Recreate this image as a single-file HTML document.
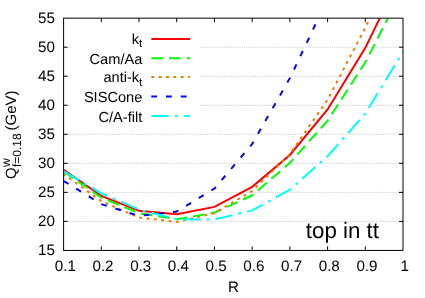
<!DOCTYPE html>
<html><head><meta charset="utf-8"><title>plot</title>
<style>html,body{margin:0;padding:0;background:#fff}svg{display:block}text{font-family:"Liberation Sans",sans-serif;fill:#000;text-rendering:geometricPrecision}</style></head>
<body>
<svg width="425" height="298" viewBox="0 0 425 298">
<rect x="0" y="0" width="425" height="298" fill="#fff"/>
<defs><filter id="gs" x="0" y="0" width="425" height="298" filterUnits="userSpaceOnUse" color-interpolation-filters="sRGB"><feColorMatrix type="saturate" values="0"/></filter><clipPath id="c"><rect x="63.6" y="18.15" width="339.4" height="232.30"/></clipPath></defs>
<line x1="63.6" y1="221.41" x2="403.0" y2="221.41" stroke="#b8b8b8" stroke-width="0.75" stroke-dasharray="1.1 1.1"/>
<line x1="63.6" y1="192.38" x2="403.0" y2="192.38" stroke="#b8b8b8" stroke-width="0.75" stroke-dasharray="1.1 1.1"/>
<line x1="63.6" y1="163.34" x2="403.0" y2="163.34" stroke="#b8b8b8" stroke-width="0.75" stroke-dasharray="1.1 1.1"/>
<line x1="63.6" y1="134.30" x2="403.0" y2="134.30" stroke="#b8b8b8" stroke-width="0.75" stroke-dasharray="1.1 1.1"/>
<line x1="63.6" y1="105.26" x2="403.0" y2="105.26" stroke="#b8b8b8" stroke-width="0.75" stroke-dasharray="1.1 1.1"/>
<line x1="63.6" y1="76.23" x2="403.0" y2="76.23" stroke="#b8b8b8" stroke-width="0.75" stroke-dasharray="1.1 1.1"/>
<line x1="63.6" y1="47.19" x2="403.0" y2="47.19" stroke="#b8b8b8" stroke-width="0.75" stroke-dasharray="1.1 1.1"/>
<rect x="71.5" y="26" width="127.5" height="100" fill="#fff"/>
<g clip-path="url(#c)" fill="none" stroke-width="2" stroke-linejoin="miter">
<polyline points="63.60,169.73 101.31,195.86 139.02,210.84 176.73,214.21 214.44,206.89 252.16,186.86 289.87,154.97 327.58,109.44 365.29,47.88 403.00,-29.47" stroke="#ff0000"/>
<polyline points="63.60,171.47 101.31,197.72 139.02,213.28 176.73,219.21 214.44,212.70 252.16,195.28 289.87,162.81 327.58,120.65 365.29,62.29 403.00,-11.29" stroke="#00ff00" stroke-dasharray="11.6 6.1"/>
<polyline points="63.60,174.08 101.31,201.09 139.02,217.58 176.73,221.88 214.44,213.11 252.16,191.04 289.87,154.05 327.58,99.75 365.29,27.73 403.00,-51.54" stroke="#ee7a00" stroke-dasharray="2.9 4.46" stroke-dashoffset="0.6"/>
<polyline points="63.60,180.99 101.31,204.16 139.02,215.90 176.73,211.54 214.44,188.60 252.16,144.00 289.87,78.14 327.58,-1.01 365.29,-98.00 403.00,-185.11" stroke="#0000ff" stroke-dasharray="5.7 9.05"/>
<polyline points="63.60,171.47 101.31,193.25 139.02,209.51 176.73,219.32 214.44,219.44 252.16,210.38 289.87,189.65 327.58,156.25 365.29,113.51 403.00,51.83" stroke="#00ffff" stroke-dasharray="17.5 6.05 2.85 6.05"/>
</g>
<line x1="151.3" y1="38.9" x2="190.2" y2="38.9" stroke="#ff0000" stroke-width="2"/>
<line x1="151.3" y1="58.2" x2="190.2" y2="58.2" stroke="#00ff00" stroke-width="2" stroke-dasharray="11.6 6.1"/>
<line x1="151.3" y1="77.1" x2="190.2" y2="77.1" stroke="#ee7a00" stroke-width="2" stroke-dasharray="2.9 4.46"/>
<line x1="151.3" y1="96.4" x2="190.2" y2="96.4" stroke="#0000ff" stroke-width="2" stroke-dasharray="5.7 9.05"/>
<line x1="151.3" y1="116.1" x2="190.2" y2="116.1" stroke="#00ffff" stroke-width="2" stroke-dasharray="17.5 6.05 2.85 6.05"/>
<rect x="63.6" y="18.15" width="339.40" height="232.30" fill="none" stroke="#000" stroke-width="1"/>
<line x1="101.31" y1="250.45" x2="101.31" y2="246.45" stroke="#000" stroke-width="1"/>
<line x1="101.31" y1="18.15" x2="101.31" y2="22.15" stroke="#000" stroke-width="1"/>
<line x1="139.02" y1="250.45" x2="139.02" y2="246.45" stroke="#000" stroke-width="1"/>
<line x1="139.02" y1="18.15" x2="139.02" y2="22.15" stroke="#000" stroke-width="1"/>
<line x1="176.73" y1="250.45" x2="176.73" y2="246.45" stroke="#000" stroke-width="1"/>
<line x1="176.73" y1="18.15" x2="176.73" y2="22.15" stroke="#000" stroke-width="1"/>
<line x1="214.44" y1="250.45" x2="214.44" y2="246.45" stroke="#000" stroke-width="1"/>
<line x1="214.44" y1="18.15" x2="214.44" y2="22.15" stroke="#000" stroke-width="1"/>
<line x1="252.16" y1="250.45" x2="252.16" y2="246.45" stroke="#000" stroke-width="1"/>
<line x1="252.16" y1="18.15" x2="252.16" y2="22.15" stroke="#000" stroke-width="1"/>
<line x1="289.87" y1="250.45" x2="289.87" y2="246.45" stroke="#000" stroke-width="1"/>
<line x1="289.87" y1="18.15" x2="289.87" y2="22.15" stroke="#000" stroke-width="1"/>
<line x1="327.58" y1="250.45" x2="327.58" y2="246.45" stroke="#000" stroke-width="1"/>
<line x1="327.58" y1="18.15" x2="327.58" y2="22.15" stroke="#000" stroke-width="1"/>
<line x1="365.29" y1="250.45" x2="365.29" y2="246.45" stroke="#000" stroke-width="1"/>
<line x1="365.29" y1="18.15" x2="365.29" y2="22.15" stroke="#000" stroke-width="1"/>
<line x1="63.6" y1="221.41" x2="67.6" y2="221.41" stroke="#000" stroke-width="1"/>
<line x1="403.0" y1="221.41" x2="399.0" y2="221.41" stroke="#000" stroke-width="1"/>
<line x1="63.6" y1="192.38" x2="67.6" y2="192.38" stroke="#000" stroke-width="1"/>
<line x1="403.0" y1="192.38" x2="399.0" y2="192.38" stroke="#000" stroke-width="1"/>
<line x1="63.6" y1="163.34" x2="67.6" y2="163.34" stroke="#000" stroke-width="1"/>
<line x1="403.0" y1="163.34" x2="399.0" y2="163.34" stroke="#000" stroke-width="1"/>
<line x1="63.6" y1="134.30" x2="67.6" y2="134.30" stroke="#000" stroke-width="1"/>
<line x1="403.0" y1="134.30" x2="399.0" y2="134.30" stroke="#000" stroke-width="1"/>
<line x1="63.6" y1="105.26" x2="67.6" y2="105.26" stroke="#000" stroke-width="1"/>
<line x1="403.0" y1="105.26" x2="399.0" y2="105.26" stroke="#000" stroke-width="1"/>
<line x1="63.6" y1="76.23" x2="67.6" y2="76.23" stroke="#000" stroke-width="1"/>
<line x1="403.0" y1="76.23" x2="399.0" y2="76.23" stroke="#000" stroke-width="1"/>
<line x1="63.6" y1="47.19" x2="67.6" y2="47.19" stroke="#000" stroke-width="1"/>
<line x1="403.0" y1="47.19" x2="399.0" y2="47.19" stroke="#000" stroke-width="1"/>
<g filter="url(#gs)">
<text x="142.3" y="43.5" font-size="14.6" text-anchor="end">k<tspan font-size="11.5" dy="3.5">t</tspan></text>
<text x="142.3" y="64.1" font-size="14.6" text-anchor="end">Cam/Aa</text>
<text x="142.3" y="82.0" font-size="14.6" text-anchor="end">anti-k<tspan font-size="11.5" dy="3.5">t</tspan></text>
<text x="142.3" y="102.3" font-size="14.6" text-anchor="end">SISCone</text>
<text x="142.3" y="122.0" font-size="14.6" text-anchor="end">C/A-filt</text>
<text x="54.9" y="255.40" font-size="15.2" text-anchor="end">15</text>
<text x="54.9" y="226.36" font-size="15.2" text-anchor="end">20</text>
<text x="54.9" y="197.32" font-size="15.2" text-anchor="end">25</text>
<text x="54.9" y="168.29" font-size="15.2" text-anchor="end">30</text>
<text x="54.9" y="139.25" font-size="15.2" text-anchor="end">35</text>
<text x="54.9" y="110.21" font-size="15.2" text-anchor="end">40</text>
<text x="54.9" y="81.18" font-size="15.2" text-anchor="end">45</text>
<text x="54.9" y="52.14" font-size="15.2" text-anchor="end">50</text>
<text x="54.9" y="23.10" font-size="15.2" text-anchor="end">55</text>
<text x="65.30" y="270.7" font-size="15.2" text-anchor="middle">0.1</text>
<text x="103.01" y="270.7" font-size="15.2" text-anchor="middle">0.2</text>
<text x="140.72" y="270.7" font-size="15.2" text-anchor="middle">0.3</text>
<text x="178.43" y="270.7" font-size="15.2" text-anchor="middle">0.4</text>
<text x="216.14" y="270.7" font-size="15.2" text-anchor="middle">0.5</text>
<text x="253.86" y="270.7" font-size="15.2" text-anchor="middle">0.6</text>
<text x="291.57" y="270.7" font-size="15.2" text-anchor="middle">0.7</text>
<text x="329.28" y="270.7" font-size="15.2" text-anchor="middle">0.8</text>
<text x="366.99" y="270.7" font-size="15.2" text-anchor="middle">0.9</text>
<text x="404.70" y="270.7" font-size="15.2" text-anchor="middle">1</text>
<text x="233.5" y="292.2" font-size="15.2" text-anchor="middle">R</text>
<text x="379" y="237.6" font-size="22.3" text-anchor="end">top in tt</text>
<g transform="translate(16.2,179.1) rotate(-90)"><text x="0" y="0" font-size="14.8">Q</text><text x="12" y="-6.4" font-size="12.2">w</text><text x="12" y="4.6" font-size="12">f=0.18</text><text x="48.7" y="0" font-size="15">(GeV)</text></g>
</g>
</svg></body></html>
